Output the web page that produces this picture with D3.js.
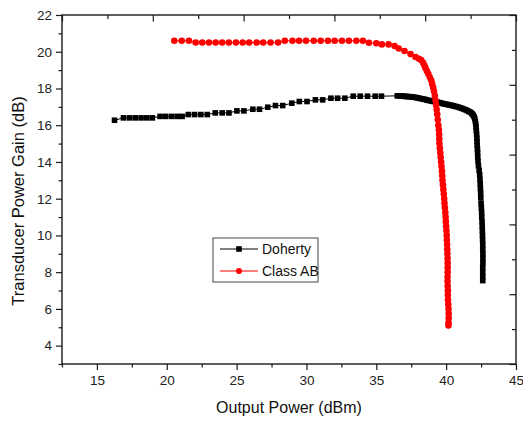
<!DOCTYPE html>
<html>
<head>
<meta charset="utf-8">
<script src="https://cdn.jsdelivr.net/npm/d3@7"></script>
<style>
  body { margin: 0; background: #fff; }
  svg { font-family: "Liberation Sans", Arial, sans-serif; }
</style>
</head>
<body>
<script>
// Doherty: output power (dBm) and gain (dB)
var dohertyPout = [16.26,16.90,17.33,17.74,18.16,18.57,18.97,19.52,19.93,20.36,20.76,21.10,
  21.54,21.99,22.44,22.90,23.47,23.97,24.45,25.02,25.52,26.16,26.64,27.23,27.78,28.30,28.95,
  29.49,30.04,30.64,31.16,31.75,32.23,32.75,33.35,33.85,34.37,34.92,35.37,
  36.50,36.62,36.75,36.88,37.00,37.12,37.25,37.38,37.50,37.62,37.75,37.88,38.00,38.12,38.25,
  38.38,38.50,38.62,38.75,38.88,39.00,39.12,39.25,39.38,39.50,39.62,39.75,39.88,40.00,40.12,
  40.25,40.38,40.50,40.62,40.75,40.88,41.00,41.12,41.25,41.38,41.50,41.62,41.75,41.85,41.93,
  42.00,42.05,42.09,42.12,42.14,42.16,42.18,42.20,42.21,42.22,42.24,42.25,42.26,42.28,42.31,
  42.36,42.40,42.42,42.44,42.45,42.47,42.48,42.50,42.52,42.54,42.55,42.57,42.58,42.59,42.60,
  42.61,42.62,42.62,42.63,42.63,42.63,42.62,42.62,42.62,42.62];
var dohertyGain = [16.27,16.40,16.40,16.40,16.40,16.40,16.40,16.48,16.48,16.48,16.48,16.48,
  16.58,16.58,16.58,16.58,16.67,16.67,16.67,16.78,16.78,16.87,16.87,16.98,17.07,17.07,17.20,
  17.29,17.29,17.38,17.38,17.47,17.47,17.47,17.58,17.58,17.58,17.58,17.58,
  17.60,17.60,17.59,17.58,17.57,17.57,17.56,17.55,17.55,17.53,17.52,17.50,17.48,17.46,17.44,
  17.42,17.40,17.37,17.35,17.33,17.31,17.29,17.27,17.25,17.23,17.21,17.18,17.16,17.14,17.12,
  17.10,17.08,17.06,17.03,17.01,16.98,16.95,16.92,16.88,16.84,16.80,16.75,16.70,16.63,16.55,
  16.46,16.35,16.20,16.05,15.90,15.70,15.50,15.30,15.10,14.90,14.70,14.50,14.27,14.05,13.80,
  13.55,13.30,13.05,12.80,12.55,12.30,12.05,11.75,11.50,11.25,11.00,10.75,10.50,10.25,10.00,
  9.75,9.50,9.25,9.00,8.75,8.50,8.25,8.00,7.75,7.54];

// Class AB
var classABPout = [20.54,21.07,21.59,22.07,22.54,23.02,23.50,23.97,24.45,24.95,25.43,25.90,
  26.43,26.90,27.43,27.97,28.45,29.00,29.47,29.97,30.52,31.02,31.54,32.02,32.54,33.04,33.57,
  34.04,34.47,35.00,35.40,35.88,36.31,36.61,37.02,37.45,37.81,38.05,38.21,38.35,38.45,38.52,
  38.62,38.72,38.82,38.93,39.00,39.07,39.13,39.19,39.24,39.28,39.32,39.36,39.40,39.44,39.48,
  39.50,39.51,39.52,39.55,39.58,39.61,39.64,39.67,39.70,39.72,39.74,39.77,39.80,39.83,39.86,
  39.88,39.91,39.94,39.96,39.98,40.00,40.02,40.04,40.05,40.07,40.08,40.09,40.10,40.11,40.11,
  40.11,40.10,40.10,40.11,40.12,40.12,40.13,40.15,40.17,40.18,40.18,40.17,40.16];
var classABGain = [20.60,20.60,20.60,20.50,20.50,20.50,20.50,20.50,20.50,20.50,20.50,20.50,
  20.50,20.50,20.50,20.50,20.60,20.60,20.60,20.60,20.60,20.60,20.60,20.60,20.60,20.60,20.60,
  20.60,20.49,20.46,20.40,20.40,20.31,20.18,20.04,19.87,19.71,19.62,19.55,19.40,19.25,19.11,
  18.95,18.80,18.62,18.45,18.25,18.05,17.85,17.60,17.36,17.10,16.85,16.60,16.30,16.00,15.75,
  15.50,15.25,15.00,14.75,14.50,14.25,14.00,13.75,13.50,13.25,13.00,12.75,12.50,12.25,12.00,
  11.75,11.50,11.25,11.00,10.75,10.50,10.25,10.00,9.75,9.50,9.25,9.00,8.75,8.50,8.25,
  8.00,7.75,7.50,7.25,7.00,6.75,6.50,6.25,6.00,5.75,5.50,5.25,5.10];

var xMajor = [15, 20, 25, 30, 35, 40, 45];
var xMinor = [12.5, 17.5, 22.5, 27.5, 32.5, 37.5, 42.5];
var yMajor = [4, 6, 8, 10, 12, 14, 16, 18, 20, 22];
var yMinor = [3, 5, 7, 9, 11, 13, 15, 17, 19, 21];
var legendNames = ["Doherty", "Class AB"];

var width = 523, height = 421;
var margin = { top: 15, right: 7, bottom: 57, left: 62 };
var pw = width - margin.left - margin.right,
    ph = height - margin.top - margin.bottom;

var svg = d3.select("body").append("svg")
  .attr("width", width)
  .attr("height", height);

var g = svg.append("g")
  .attr("transform", "translate(" + margin.left + "," + margin.top + ")");

var x = d3.scaleLinear().domain([12.5, 45]).range([0, pw]);
var y = d3.scaleLinear().domain([3, 22]).range([ph, 0]);
// top / right frame axes are just 10 even divisions
var xt = d3.scaleLinear().domain([0, 10]).range([0, pw]);
var yr = d3.scaleLinear().domain([0, 10]).range([0, ph]);

var axisColor = "#1a1a1a";

function styleAxis(sel) {
  sel.select(".domain").remove();
  sel.selectAll(".tick line").attr("stroke", axisColor).attr("stroke-width", 1.2);
  sel.selectAll(".tick text").attr("fill", "#222").style("font-size", "13.5px");
}

// bottom
g.append("g").attr("transform", "translate(0," + ph + ")")
  .call(d3.axisBottom(x).tickValues(xMajor).tickSize(6).tickPadding(5).tickFormat(d3.format("d")))
  .call(styleAxis);
g.append("g").attr("transform", "translate(0," + ph + ")")
  .call(d3.axisBottom(x).tickValues(xMinor).tickSize(3.5).tickFormat(""))
  .call(styleAxis);
// left
g.append("g")
  .call(d3.axisLeft(y).tickValues(yMajor).tickSize(6).tickPadding(4).tickFormat(d3.format("d")))
  .call(styleAxis);
g.append("g")
  .call(d3.axisLeft(y).tickValues(yMinor).tickSize(3.5).tickFormat(""))
  .call(styleAxis);
// top (inward)
g.append("g")
  .call(d3.axisBottom(xt).tickValues([0, 2, 4, 6, 8, 10]).tickSize(6.5).tickFormat(""))
  .call(styleAxis);
g.append("g")
  .call(d3.axisBottom(xt).tickValues([1, 3, 5, 7, 9]).tickSize(4).tickFormat(""))
  .call(styleAxis);
// right (inward)
g.append("g").attr("transform", "translate(" + pw + ",0)")
  .call(d3.axisLeft(yr).tickValues([0, 2, 4, 6, 8, 10]).tickSize(6.5).tickFormat(""))
  .call(styleAxis);
g.append("g").attr("transform", "translate(" + pw + ",0)")
  .call(d3.axisLeft(yr).tickValues([1, 3, 5, 7, 9]).tickSize(4).tickFormat(""))
  .call(styleAxis);

// frame
g.append("rect")
  .attr("width", pw).attr("height", ph)
  .attr("fill", "none")
  .attr("stroke", axisColor)
  .attr("stroke-width", 1.4);

var doherty = dohertyPout.map(function(d, i) { return [d, dohertyGain[i]]; });
var classAB = classABPout.map(function(d, i) { return [d, classABGain[i]]; });

var line = d3.line()
  .x(function(d) { return x(d[0]); })
  .y(function(d) { return y(d[1]); });

// Doherty
g.append("path").datum(doherty)
  .attr("d", line)
  .attr("fill", "none")
  .attr("stroke", "#000")
  .attr("stroke-width", 1);
g.selectAll(".sq").data(doherty).enter()
  .append("rect")
  .attr("class", "sq")
  .attr("x", function(d) { return x(d[0]) - 2.8; })
  .attr("y", function(d) { return y(d[1]) - 2.8; })
  .attr("width", 5.6).attr("height", 5.6)
  .attr("fill", "#000");

// Class AB
g.append("path").datum(classAB)
  .attr("d", line)
  .attr("fill", "none")
  .attr("stroke", "#f00")
  .attr("stroke-width", 1);
g.selectAll(".dot").data(classAB).enter()
  .append("circle")
  .attr("class", "dot")
  .attr("cx", function(d) { return x(d[0]); })
  .attr("cy", function(d) { return y(d[1]); })
  .attr("r", 3.3)
  .attr("fill", "#f00");

// legend
var lg = svg.append("g").attr("transform", "translate(213,238)");
lg.append("rect")
  .attr("width", 105).attr("height", 44)
  .attr("fill", "#fff")
  .attr("stroke", "#444")
  .attr("stroke-width", 1);
var colors = ["#000", "#f00"];
legendNames.forEach(function(name, i) {
  var yy = 11 + i * 22;
  lg.append("line")
    .attr("x1", 7).attr("x2", 45).attr("y1", yy).attr("y2", yy)
    .attr("stroke", colors[i]).attr("stroke-width", 1);
  if (i === 0) {
    lg.append("rect").attr("x", 23.2).attr("y", yy - 2.8).attr("width", 5.6).attr("height", 5.6).attr("fill", "#000");
  } else {
    lg.append("circle").attr("cx", 26).attr("cy", yy).attr("r", 3).attr("fill", "#f00");
  }
  lg.append("text")
    .attr("x", 49).attr("y", yy + 5)
    .attr("fill", "#111")
    .style("font-size", "14px")
    .text(name);
});

// axis titles
svg.append("text")
  .attr("x", margin.left + pw / 2)
  .attr("y", 413)
  .attr("text-anchor", "middle")
  .attr("fill", "#111")
  .style("font-size", "16px")
  .text("Output Power (dBm)");
svg.append("text")
  .attr("transform", "translate(24,201) rotate(-90)")
  .attr("text-anchor", "middle")
  .attr("fill", "#111")
  .style("font-size", "16.5px")
  .text("Transducer Power Gain (dB)");
</script>
</body>
</html>
